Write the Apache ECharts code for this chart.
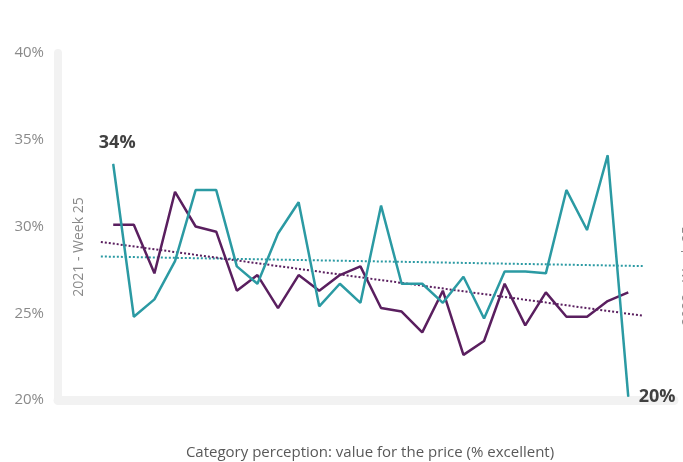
<!DOCTYPE html>
<html><head><meta charset="utf-8">
<script src="https://cdn.jsdelivr.net/npm/echarts@6/dist/echarts.min.js"></script>
<style>html,body{margin:0;padding:0;background:#fff}#c{width:683px;height:462px}</style>
</head><body><div id="c"></div>
<script>
// week index (x position of each observation)
const weekIdx = [0,1,2,3,4,5,6,7,8,9,10,11,12,13,14,15,16,17,18,19,20,21,22,23,24,25];
const tealValues = [33.6,24.8,25.8,28.0,32.1,32.1,27.7,26.7,29.6,31.4,25.4,26.7,25.6,31.2,26.7,26.7,25.6,27.1,24.7,27.4,27.4,27.3,32.1,29.8,34.1,20.2];
const purpleValues = [30.1,30.1,27.3,32.0,30.0,29.7,26.3,27.2,25.3,27.2,26.3,27.2,27.7,25.3,25.1,23.9,26.3,22.6,23.4,26.7,24.3,26.2,24.8,24.8,25.7,26.2];
// trend line end points (x index, value)
const trendX = [-0.6, 25.7];
const tealTrend = [28.27, 27.72];
const purpleTrend = [29.11, 24.86];
const yTicks = [20, 25, 30, 35, 40];
const startLabel = '2021 - Week 25';
const endLabel = '2022 - Week 25';
const title = 'Category perception: value for the price (% excellent)';

const TEAL = '#2b9aa3', PURPLE = '#5a1f5f';
const FONT = 'Open Sans';
const chart = echarts.init(document.getElementById('c'));

const pts = (vals) => vals.map((v, i) => [weekIdx[i], v]);
const labelStyle = {show: true, color: '#404040', fontSize: 18, fontWeight: 'bold', fontFamily: FONT,
  formatter: p => Math.round(p.value[1]) + '%'};
const tealData = pts(tealValues).map((p, i, a) => {
  if (i === 0) return {value: p, label: Object.assign({}, labelStyle, {position: 'top', distance: 12, offset: [4, 0]})};
  if (i === a.length - 1) return {value: p, label: Object.assign({}, labelStyle, {position: 'right', distance: 10})};
  return p;
});

chart.setOption({
  animation: false,
  textStyle: {fontFamily: FONT},
  grid: {left: 58, right: 9, top: 53, bottom: 62},
  xAxis: {
    type: 'value', min: -2.68, max: 27.22,
    axisLine: {show: true, onZero: false, lineStyle: {color: '#f2f2f2', width: 9}},
    axisTick: {show: false}, axisLabel: {show: false}, splitLine: {show: false}
  },
  yAxis: {
    type: 'value', min: yTicks[0], max: yTicks[yTicks.length - 1], interval: 5,
    axisLine: {show: true, onZero: false, lineStyle: {color: '#f2f2f2', width: 8}},
    axisTick: {show: false}, splitLine: {show: false},
    axisLabel: {margin: 14, color: '#8a8a8a', fontSize: 15, fontFamily: FONT, formatter: v => v + '%'}
  },
  graphic: [
    {type: 'text', x: 79, y: 247, rotation: Math.PI / 2,
     style: {text: startLabel, fill: '#8a8a8a', font: '14px "Open Sans"', align: 'center', verticalAlign: 'middle'}},
    {type: 'text', x: 688, y: 276, rotation: Math.PI / 2,
     style: {text: endLabel, fill: '#8a8a8a', font: '14px "Open Sans"', align: 'center', verticalAlign: 'middle'}},
    {type: 'text', x: 370, y: 453,
     style: {text: title, fill: '#595959', font: '15px "Open Sans"', align: 'center', verticalAlign: 'middle'}}
  ],
  series: [
    {type: 'line', data: [[trendX[0], tealTrend[0]], [trendX[1], tealTrend[1]]], symbol: 'none', silent: true,
     lineStyle: {color: TEAL, width: 2, type: [2, 2]}, z: 1},
    {type: 'line', data: [[trendX[0], purpleTrend[0]], [trendX[1], purpleTrend[1]]], symbol: 'none', silent: true,
     lineStyle: {color: PURPLE, width: 2, type: [2, 2]}, z: 1},
    {type: 'line', data: pts(purpleValues), symbol: 'none', lineStyle: {color: PURPLE, width: 2.5}, z: 2},
    {type: 'line', data: tealData, symbol: 'circle', symbolSize: 1, showSymbol: true,
     itemStyle: {color: TEAL}, lineStyle: {color: TEAL, width: 2.5}, z: 3,
     label: {show: false}}
  ]
});
</script></body></html>
